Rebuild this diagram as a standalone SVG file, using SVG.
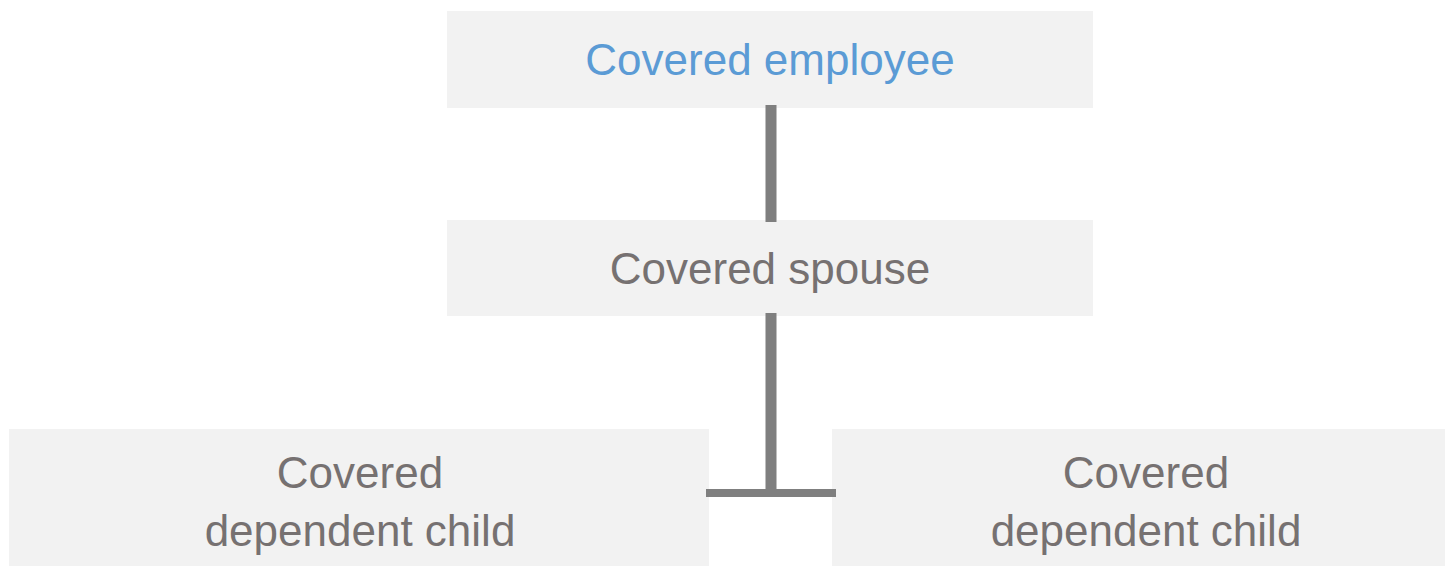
<svg xmlns="http://www.w3.org/2000/svg" width="1445" height="566" viewBox="0 0 1445 566">
<style>
.box{fill:#f2f2f2}
.t{font-family:"Liberation Sans",Arial,sans-serif;font-size:44px;text-anchor:middle;fill:#767171}
.blue{fill:#5b9bd5}
.c{stroke:#7f7f7f;fill:none}
</style>
<rect width="1445" height="566" fill="#ffffff"/>
<g id="employee">
<rect class="box" x="447" y="11" width="646" height="97"/>
<text class="t blue" x="770" y="75">Covered employee</text>
</g>
<g id="spouse">
<rect class="box" x="447" y="220" width="646" height="96"/>
<text class="t" x="770" y="284">Covered spouse</text>
</g>
<g id="child1">
<rect class="box" x="9" y="429" width="700" height="137"/>
<text class="t" x="360" y="488">Covered</text>
<text class="t" x="360" y="546">dependent child</text>
</g>
<g id="child2">
<rect class="box" x="832" y="429" width="613" height="137"/>
<text class="t" x="1146" y="488">Covered</text>
<text class="t" x="1146" y="546">dependent child</text>
</g>
<g id="connectors">
<line class="c" x1="771" y1="105" x2="771" y2="222" stroke-width="11"/>
<line class="c" x1="771" y1="313" x2="771" y2="494" stroke-width="11"/>
<line class="c" x1="706" y1="493" x2="836" y2="493" stroke-width="8"/>
</g>
</svg>
